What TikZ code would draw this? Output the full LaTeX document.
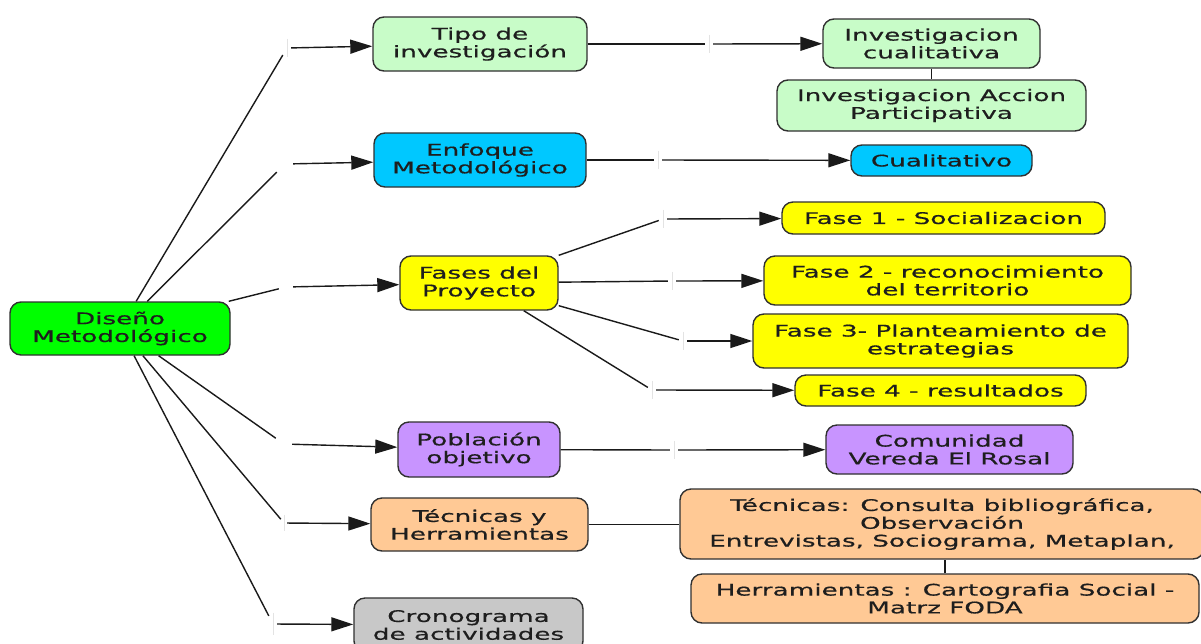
\documentclass[tikz,border=0pt]{standalone}
\usepackage{fontspec}
\setmainfont[FakeStretch=1.64,FakeBold=0.6]{DejaVu Sans}
\usetikzlibrary{arrows.meta}
\definecolor{cgreen}{HTML}{00FF00}
\definecolor{clgreen}{HTML}{C8FCC8}
\definecolor{ccyan}{HTML}{00C8FF}
\definecolor{cyellow}{HTML}{FFFF00}
\definecolor{cpurple}{HTML}{C894FF}
\definecolor{corange}{HTML}{FFC995}
\definecolor{cgray}{HTML}{C8C8C8}
\definecolor{cborder}{HTML}{303030}
\definecolor{cline}{HTML}{1A1A1A}
\definecolor{ctext}{HTML}{1E1E1E}
\begin{document}
\begin{tikzpicture}[x=1pt,y=-1pt,
  box/.style={draw=cborder, line width=1.4pt, rounded corners=11pt, align=center,
    inner sep=0pt, font=\fontsize{16}{17.8}\selectfont, text=ctext},
  lnk/.style={inner sep=0pt, minimum width=8pt, minimum height=16pt},
  con/.style={draw=cline, line width=1.4pt},
  arr/.style={con, -{Triangle[length=22pt,width=14pt]}},
  tickmark/.style={draw=gray!22, line width=1pt}]
\useasboundingbox[fill=white] (0,0) rectangle (1201,643);

% main concept
\node[box, fill=cgreen, minimum width=220pt, minimum height=53pt] (dis) at (120,328.5) {Diseño\\Metodológico};

% second level
\node[box, fill=clgreen, minimum width=214pt, minimum height=54pt] (tipo) at (480,44) {Tipo de\\investigación};
\node[box, fill=ccyan, minimum width=212pt, minimum height=54pt] (enf) at (480,160) {Enfoque\\Metodológico};
\node[box, fill=cyellow, minimum width=158pt, minimum height=54pt] (fases) at (479,283) {Fases del\\Proyecto};
\node[box, fill=cpurple, minimum width=162pt, minimum height=55pt] (pob) at (479,449.5) {Población\\objetivo};
\node[box, fill=corange, minimum width=217pt, minimum height=53pt] (tec) at (479.5,524.5) {Técnicas y\\Herramientas};
\node[box, fill=cgray, minimum width=229pt, minimum height=54pt] (cro) at (468.5,625) {Cronograma\\de actividades};

% third level
\node[box, fill=clgreen, minimum width=217pt, minimum height=49pt] (invc) at (931.5,43.5) {Investigacion\\cualitativa};
\node[box, fill=clgreen, minimum width=309pt, minimum height=51pt] (iap) at (931.5,105.5) {Investigacion Accion\\Participativa};
\node[box, fill=ccyan, minimum width=181pt, minimum height=31pt] (cual) at (941.5,160.5) {Cualitativo};
\node[box, fill=cyellow, minimum width=323pt, minimum height=32pt] (f1) at (943.5,218) {Fase 1 - Socializacion};
\node[box, fill=cyellow, minimum width=367pt, minimum height=49pt] (f2) at (947.5,280.5) {Fase 2 - reconocimiento\\del territorio};
\node[box, fill=cyellow, minimum width=375pt, minimum height=54pt] (f3) at (940.5,341) {Fase 3- Planteamiento de\\estrategias};
\node[box, fill=cyellow, minimum width=291pt, minimum height=31pt] (f4) at (940.5,390.5) {Fase 4 - resultados};
\node[box, fill=cpurple, minimum width=247pt, minimum height=49pt] (com) at (949.5,449.5) {Comunidad\\Vereda El Rosal};
\node[box, fill=corange, minimum width=524pt, minimum height=70pt] (tecb) at (942,524) {Técnicas: Consulta bibliográfica,\\Observación\\Entrevistas, Sociograma, Metaplan,};
\node[box, fill=corange, minimum width=508pt, minimum height=49pt] (her) at (945,598.5) {Herramientas : Cartografia Social -\\Matrz FODA};

% linking points (empty linking phrases)
\node[lnk] (l1) at (287,48) {};
\node[lnk, minimum width=16pt] (l2) at (285,164) {};
\node[lnk, minimum width=14pt] (l3) at (286,287) {};
\node[lnk, minimum width=16pt] (l4) at (284,444) {};
\node[lnk, minimum width=6pt, minimum height=14pt] (l5) at (284,523) {};
\node[lnk, minimum height=20pt] (l6) at (273,624) {};
\node[lnk] (m1) at (709,44) {};
\node[lnk] (m2) at (658,160) {};
\node[lnk] (n1) at (663,219) {};
\node[lnk] (n2) at (672,281) {};
\node[lnk] (n3) at (683,341) {};
\node[lnk] (n4) at (652,390) {};
\node[lnk] (n5) at (674,450) {};

% tick marks of the linking phrases
\foreach \l in {l1,l5,l6,m1,m2,n1,n2,n3,n4,n5}
  \draw[tickmark] ([yshift=1pt]\l.north) -- ([yshift=-1pt]\l.south);

% connectors from the main concept
\draw[con] (dis) -- (l1);  \draw[arr] (l1) -- (tipo);
\draw[con] (dis) -- (l2);  \draw[arr] (l2) -- (enf);
\draw[con] (dis) -- (l3);  \draw[arr] (l3) -- (fases);
\draw[con] (dis) -- (l4);  \draw[arr] (l4) -- (pob);
\draw[con] (dis) -- (l5);  \draw[arr] (l5) -- (tec);
\draw[con] (dis) -- (l6);  \draw[arr] (l6) -- (cro);

% second level connectors
\draw[con] (tipo) -- (m1);  \draw[arr] (m1) -- (invc);
\draw[con] (invc.south -| iap.north) -- (iap.north);
\draw[con] (enf) -- (m2);   \draw[arr] (m2) -- (cual);
\draw[con] (fases) -- (n1); \draw[arr] (n1) -- (f1);
\draw[con] (fases) -- (n2); \draw[arr] (n2) -- (f2);
\draw[con] (fases) -- (n3); \draw[arr] (n3) -- (f3);
\draw[con] (fases) -- (n4); \draw[arr] (n4) -- (f4);
\draw[con] (pob) -- (n5);   \draw[arr] (n5) -- (com);
\draw[con] (tec) -- (tec -| tecb.west);
\draw[con] (her.north) -- (her.north |- tecb.south);
\end{tikzpicture}
\end{document}
